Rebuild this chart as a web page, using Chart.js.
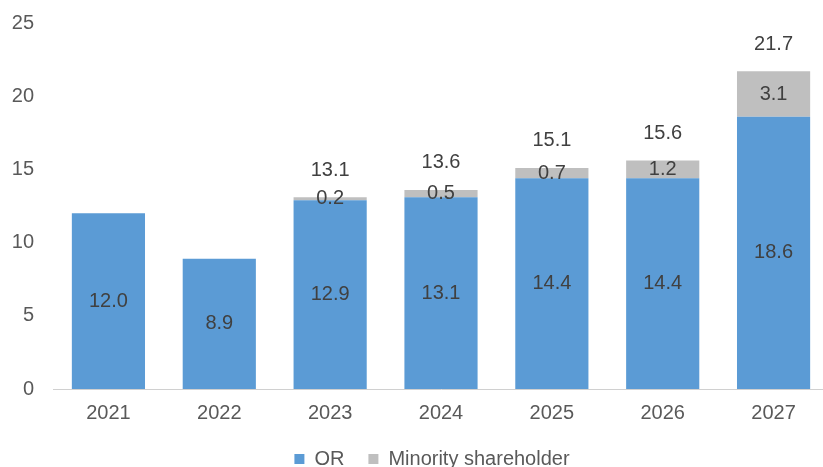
<!DOCTYPE html>
<html>
<head>
<meta charset="utf-8">
<script src="https://cdn.jsdelivr.net/npm/chart.js@4.4.1/dist/chart.umd.min.js"></script>
<style>
  html, body { margin: 0; padding: 0; background: #fff; overflow: hidden; }
  #wrap { position: relative; width: 831px; height: 479px; }
</style>
</head>
<body>
<div id="wrap"><canvas id="chart"></canvas></div>
<script>
// Net income split by owner, by year
const years = ['2021', '2022', '2023', '2024', '2025', '2026', '2027'];
const orValues = [12.0, 8.9, 12.9, 13.1, 14.4, 14.4, 18.6];
const minorityValues = [0, 0, 0.2, 0.5, 0.7, 1.2, 3.1];
const yTicks = [0, 5, 10, 15, 20, 25];

const FONT = '"Liberation Sans", Arial, sans-serif';

// values inside each segment, plus the stack total above bars that have a minority part
const barLabels = {
  id: 'barLabels',
  afterDatasetsDraw(chart) {
    const ctx = chart.ctx;
    ctx.save();
    ctx.font = '20px ' + FONT;
    ctx.fillStyle = '#404040';
    ctx.textAlign = 'center';
    ctx.textBaseline = 'middle';
    chart.data.datasets.forEach((ds, i) => {
      chart.getDatasetMeta(i).data.forEach((bar, j) => {
        const v = ds.data[j];
        if (!v) return;
        ctx.fillText(v.toFixed(1), bar.x, (bar.y + bar.base) / 2);
      });
    });
    const tops = chart.getDatasetMeta(1).data;
    minorityValues.forEach((m, j) => {
      if (!m) return;
      const total = orValues[j] + m;
      ctx.fillText(total.toFixed(1), tops[j].x, tops[j].y - 27);
    });
    ctx.restore();
  }
};

// nudge the legend a little left of the plot centre
const legendShift = {
  id: 'legendShift',
  beforeDraw(chart) {
    if (chart.legend && !chart.legend._shifted) {
      chart.legend.left -= 9;
      chart.legend.right -= 9;
      chart.legend._shifted = true;
    }
  }
};

new Chart(document.getElementById('chart'), {
  type: 'bar',
  data: {
    labels: years,
    datasets: [
      {
        label: 'OR',
        data: orValues,
        backgroundColor: '#5B9BD5',
        categoryPercentage: 0.66,
        barPercentage: 1
      },
      {
        label: 'Minority shareholder',
        data: minorityValues,
        backgroundColor: '#BFBFBF',
        categoryPercentage: 0.66,
        barPercentage: 1
      }
    ]
  },
  options: {
    responsive: true,
    maintainAspectRatio: false,
    animation: false,
    layout: { padding: { top: 23, right: 2, left: 0, bottom: 0 } },
    scales: {
      x: {
        stacked: true,
        afterFit: (scale) => { scale.height = 36; },
        grid: { display: false, drawTicks: false },
        border: { display: true, color: '#D0D0D0', width: 1 },
        ticks: { color: '#595959', font: { family: FONT, size: 20 }, padding: 12 }
      },
      y: {
        stacked: true,
        min: 0,
        max: 25,
        afterBuildTicks: (scale) => { scale.ticks = yTicks.map(v => ({ value: v })); },
        afterFit: (scale) => { scale.width = 53; scale.paddingTop = 0; },
        grid: { display: false, drawTicks: false },
        border: { display: false },
        ticks: { color: '#595959', font: { family: FONT, size: 20 }, padding: 19 }
      }
    },
    plugins: {
      legend: {
        position: 'bottom',
        fullSize: false,
        labels: {
          color: '#595959',
          font: { family: FONT, size: 20 },
          boxWidth: 10,
          boxHeight: 10,
          padding: 24
        }
      },
      tooltip: { enabled: false }
    }
  },
  plugins: [barLabels, legendShift]
});
</script>
</body>
</html>
